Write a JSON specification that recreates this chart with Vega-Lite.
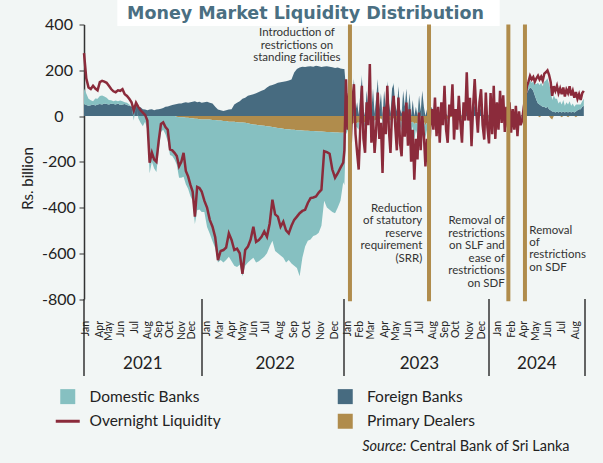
{
  "$schema": "https://vega.github.io/schema/vega-lite/v6.json",
  "width": 501,
  "height": 274.5,
  "autosize": {"type": "none"},
  "padding": {"left": 84, "top": 24.5, "right": 18, "bottom": 164},
  "background": "#f2f6f5",
  "config": {"view": {"stroke": null}, "font": "Lato", "axisX": {"disable": true}},
  "datasets": {
    "liq": [
      {"d":"2021-01-01","fb":50,"pd":0,"dom":70,"ol":275},
      {"d":"2021-01-08","fb":48,"pd":0,"dom":50,"ol":165},
      {"d":"2021-01-15","fb":45,"pd":0,"dom":30,"ol":125},
      {"d":"2021-01-22","fb":47,"pd":0,"dom":22,"ol":118},
      {"d":"2021-01-29","fb":50,"pd":0,"dom":15,"ol":132},
      {"d":"2021-02-05","fb":46,"pd":0,"dom":30,"ol":120},
      {"d":"2021-02-12","fb":50,"pd":0,"dom":25,"ol":112},
      {"d":"2021-02-19","fb":52,"pd":0,"dom":35,"ol":148},
      {"d":"2021-02-26","fb":50,"pd":0,"dom":40,"ol":154},
      {"d":"2021-03-05","fb":55,"pd":0,"dom":30,"ol":150},
      {"d":"2021-03-12","fb":52,"pd":0,"dom":28,"ol":145},
      {"d":"2021-03-19","fb":50,"pd":0,"dom":20,"ol":132},
      {"d":"2021-03-26","fb":54,"pd":0,"dom":15,"ol":118},
      {"d":"2021-04-02","fb":52,"pd":0,"dom":12,"ol":108},
      {"d":"2021-04-09","fb":50,"pd":0,"dom":18,"ol":104},
      {"d":"2021-04-16","fb":55,"pd":0,"dom":10,"ol":112},
      {"d":"2021-04-23","fb":48,"pd":0,"dom":20,"ol":110},
      {"d":"2021-04-30","fb":50,"pd":0,"dom":15,"ol":117},
      {"d":"2021-05-07","fb":52,"pd":0,"dom":8,"ol":95},
      {"d":"2021-05-14","fb":48,"pd":0,"dom":10,"ol":88},
      {"d":"2021-05-21","fb":45,"pd":0,"dom":5,"ol":75},
      {"d":"2021-05-28","fb":42,"pd":0,"dom":0,"ol":60},
      {"d":"2021-06-04","fb":40,"pd":0,"dom":-20,"ol":25},
      {"d":"2021-06-11","fb":45,"pd":0,"dom":5,"ol":58},
      {"d":"2021-06-18","fb":40,"pd":0,"dom":-10,"ol":40},
      {"d":"2021-06-25","fb":38,"pd":0,"dom":-30,"ol":25},
      {"d":"2021-07-02","fb":30,"pd":0,"dom":-45,"ol":15},
      {"d":"2021-07-09","fb":28,"pd":0,"dom":-25,"ol":5},
      {"d":"2021-07-16","fb":25,"pd":0,"dom":-60,"ol":-20},
      {"d":"2021-07-23","fb":28,"pd":0,"dom":-250,"ol":-204},
      {"d":"2021-07-30","fb":30,"pd":0,"dom":-200,"ol":-160},
      {"d":"2021-08-06","fb":25,"pd":0,"dom":-230,"ol":-190},
      {"d":"2021-08-13","fb":28,"pd":0,"dom":-245,"ol":-200},
      {"d":"2021-08-20","fb":30,"pd":0,"dom":-150,"ol":-110},
      {"d":"2021-08-27","fb":32,"pd":0,"dom":-70,"ol":-35},
      {"d":"2021-09-03","fb":35,"pd":0,"dom":-60,"ol":-28},
      {"d":"2021-09-10","fb":40,"pd":0,"dom":-80,"ol":-48},
      {"d":"2021-09-17","fb":42,"pd":0,"dom":-110,"ol":-60},
      {"d":"2021-09-24","fb":45,"pd":0,"dom":-170,"ol":-146},
      {"d":"2021-10-01","fb":48,"pd":0,"dom":-175,"ol":-150},
      {"d":"2021-10-08","fb":50,"pd":0,"dom":-190,"ol":-161},
      {"d":"2021-10-15","fb":52,"pd":-3,"dom":-210,"ol":-175},
      {"d":"2021-10-22","fb":55,"pd":-5,"dom":-265,"ol":-220},
      {"d":"2021-10-29","fb":55,"pd":-5,"dom":-265,"ol":-200},
      {"d":"2021-11-05","fb":58,"pd":-6,"dom":-260,"ol":-161},
      {"d":"2021-11-12","fb":60,"pd":-8,"dom":-290,"ol":-240},
      {"d":"2021-11-19","fb":58,"pd":-8,"dom":-310,"ol":-264},
      {"d":"2021-11-26","fb":60,"pd":-10,"dom":-340,"ol":-300},
      {"d":"2021-12-03","fb":62,"pd":-10,"dom":-360,"ol":-330},
      {"d":"2021-12-10","fb":65,"pd":-12,"dom":-460,"ol":-440},
      {"d":"2021-12-17","fb":60,"pd":-12,"dom":-400,"ol":-310},
      {"d":"2021-12-24","fb":62,"pd":-14,"dom":-395,"ol":-315},
      {"d":"2021-12-31","fb":58,"pd":-15,"dom":-405,"ol":-330},
      {"d":"2022-01-07","fb":60,"pd":-15,"dom":-405,"ol":-370},
      {"d":"2022-01-14","fb":62,"pd":-15,"dom":-470,"ol":-400},
      {"d":"2022-01-21","fb":58,"pd":-15,"dom":-500,"ol":-454},
      {"d":"2022-01-28","fb":55,"pd":-18,"dom":-530,"ol":-484},
      {"d":"2022-02-04","fb":40,"pd":-18,"dom":-560,"ol":-530},
      {"d":"2022-02-11","fb":28,"pd":-20,"dom":-620,"ol":-630},
      {"d":"2022-02-18","fb":25,"pd":-20,"dom":-610,"ol":-590},
      {"d":"2022-02-25","fb":22,"pd":-22,"dom":-618,"ol":-586},
      {"d":"2022-03-04","fb":25,"pd":-22,"dom":-608,"ol":-575},
      {"d":"2022-03-11","fb":28,"pd":-25,"dom":-590,"ol":-513},
      {"d":"2022-03-18","fb":30,"pd":-25,"dom":-610,"ol":-542},
      {"d":"2022-03-25","fb":50,"pd":-25,"dom":-630,"ol":-586},
      {"d":"2022-04-01","fb":58,"pd":-27,"dom":-633,"ol":-580},
      {"d":"2022-04-08","fb":65,"pd":-28,"dom":-622,"ol":-600},
      {"d":"2022-04-15","fb":75,"pd":-28,"dom":-672,"ol":-690},
      {"d":"2022-04-22","fb":80,"pd":-30,"dom":-625,"ol":-586},
      {"d":"2022-04-29","fb":88,"pd":-32,"dom":-608,"ol":-571},
      {"d":"2022-05-06","fb":92,"pd":-35,"dom":-595,"ol":-540},
      {"d":"2022-05-13","fb":95,"pd":-37,"dom":-583,"ol":-484},
      {"d":"2022-05-20","fb":100,"pd":-38,"dom":-602,"ol":-550},
      {"d":"2022-05-27","fb":105,"pd":-40,"dom":-595,"ol":-542},
      {"d":"2022-06-03","fb":110,"pd":-42,"dom":-583,"ol":-528},
      {"d":"2022-06-10","fb":115,"pd":-43,"dom":-572,"ol":-505},
      {"d":"2022-06-17","fb":125,"pd":-45,"dom":-555,"ol":-528},
      {"d":"2022-06-24","fb":132,"pd":-46,"dom":-524,"ol":-470},
      {"d":"2022-07-01","fb":135,"pd":-48,"dom":-497,"ol":-366},
      {"d":"2022-07-08","fb":140,"pd":-50,"dom":-540,"ol":-430},
      {"d":"2022-07-15","fb":145,"pd":-52,"dom":-548,"ol":-440},
      {"d":"2022-07-22","fb":148,"pd":-54,"dom":-556,"ol":-484},
      {"d":"2022-07-29","fb":150,"pd":-56,"dom":-564,"ol":-462},
      {"d":"2022-08-05","fb":152,"pd":-58,"dom":-582,"ol":-500},
      {"d":"2022-08-12","fb":155,"pd":-58,"dom":-572,"ol":-513},
      {"d":"2022-08-19","fb":160,"pd":-60,"dom":-585,"ol":-480},
      {"d":"2022-08-26","fb":190,"pd":-60,"dom":-595,"ol":-454},
      {"d":"2022-09-02","fb":205,"pd":-62,"dom":-603,"ol":-440},
      {"d":"2022-09-09","fb":212,"pd":-62,"dom":-638,"ol":-425},
      {"d":"2022-09-16","fb":215,"pd":-63,"dom":-557,"ol":-415},
      {"d":"2022-09-23","fb":214,"pd":-64,"dom":-506,"ol":-410},
      {"d":"2022-09-30","fb":216,"pd":-65,"dom":-480,"ol":-380},
      {"d":"2022-10-07","fb":218,"pd":-66,"dom":-474,"ol":-359},
      {"d":"2022-10-14","fb":215,"pd":-66,"dom":-459,"ol":-356},
      {"d":"2022-10-21","fb":220,"pd":-67,"dom":-453,"ol":-352},
      {"d":"2022-10-28","fb":217,"pd":-68,"dom":-442,"ol":-335},
      {"d":"2022-11-04","fb":214,"pd":-68,"dom":-412,"ol":-322},
      {"d":"2022-11-11","fb":216,"pd":-69,"dom":-301,"ol":-154},
      {"d":"2022-11-18","fb":218,"pd":-70,"dom":-330,"ol":-158},
      {"d":"2022-11-25","fb":215,"pd":-70,"dom":-340,"ol":-165},
      {"d":"2022-12-02","fb":213,"pd":-71,"dom":-349,"ol":-234},
      {"d":"2022-12-09","fb":210,"pd":-72,"dom":-353,"ol":-270},
      {"d":"2022-12-16","fb":212,"pd":-72,"dom":-328,"ol":-250},
      {"d":"2022-12-23","fb":208,"pd":-73,"dom":-297,"ol":-226},
      {"d":"2022-12-30","fb":205,"pd":-73,"dom":-217,"ol":-204},
      {"d":"2023-01-02","fb":205,"pd":-72,"dom":-230,"ol":-150},
      {"d":"2023-01-06","fb":120,"pd":-50,"dom":-30,"ol":160},
      {"d":"2023-01-10","fb":30,"pd":-45,"dom":-20,"ol":-60},
      {"d":"2023-01-14","fb":150,"pd":-40,"dom":0,"ol":100},
      {"d":"2023-01-18","fb":10,"pd":-40,"dom":-15,"ol":-117},
      {"d":"2023-01-22","fb":90,"pd":-35,"dom":0,"ol":60},
      {"d":"2023-01-26","fb":160,"pd":-30,"dom":5,"ol":139},
      {"d":"2023-01-30","fb":20,"pd":-35,"dom":-10,"ol":-80},
      {"d":"2023-02-03","fb":60,"pd":-30,"dom":-20,"ol":-160},
      {"d":"2023-02-07","fb":5,"pd":-30,"dom":-30,"ol":-234},
      {"d":"2023-02-11","fb":100,"pd":-25,"dom":0,"ol":-50},
      {"d":"2023-02-15","fb":170,"pd":-20,"dom":10,"ol":132},
      {"d":"2023-02-19","fb":30,"pd":-25,"dom":-10,"ol":-100},
      {"d":"2023-02-23","fb":0,"pd":-30,"dom":-20,"ol":-161},
      {"d":"2023-02-27","fb":110,"pd":-20,"dom":0,"ol":60},
      {"d":"2023-03-03","fb":40,"pd":-20,"dom":-5,"ol":-40},
      {"d":"2023-03-07","fb":180,"pd":-15,"dom":10,"ol":227},
      {"d":"2023-03-11","fb":20,"pd":-20,"dom":-15,"ol":-117},
      {"d":"2023-03-15","fb":120,"pd":-15,"dom":0,"ol":0},
      {"d":"2023-03-19","fb":10,"pd":-20,"dom":-20,"ol":-161},
      {"d":"2023-03-23","fb":80,"pd":-15,"dom":0,"ol":-60},
      {"d":"2023-03-27","fb":160,"pd":-10,"dom":5,"ol":103},
      {"d":"2023-03-31","fb":30,"pd":-15,"dom":-10,"ol":-100},
      {"d":"2023-04-04","fb":100,"pd":-10,"dom":0,"ol":-30},
      {"d":"2023-04-08","fb":0,"pd":-20,"dom":-40,"ol":-249},
      {"d":"2023-04-12","fb":110,"pd":-10,"dom":0,"ol":40},
      {"d":"2023-04-16","fb":40,"pd":-15,"dom":-10,"ol":-80},
      {"d":"2023-04-20","fb":150,"pd":-10,"dom":5,"ol":132},
      {"d":"2023-04-24","fb":60,"pd":-15,"dom":-10,"ol":-60},
      {"d":"2023-04-28","fb":10,"pd":-20,"dom":-30,"ol":-161},
      {"d":"2023-05-02","fb":120,"pd":-10,"dom":0,"ol":20},
      {"d":"2023-05-06","fb":140,"pd":-10,"dom":5,"ol":88},
      {"d":"2023-05-10","fb":50,"pd":-15,"dom":-10,"ol":-44},
      {"d":"2023-05-14","fb":20,"pd":-20,"dom":-30,"ol":-150},
      {"d":"2023-05-18","fb":130,"pd":-10,"dom":0,"ol":81},
      {"d":"2023-05-22","fb":30,"pd":-20,"dom":-25,"ol":-120},
      {"d":"2023-05-26","fb":10,"pd":-25,"dom":-40,"ol":-176},
      {"d":"2023-05-30","fb":110,"pd":-15,"dom":0,"ol":20},
      {"d":"2023-06-03","fb":40,"pd":-20,"dom":-20,"ol":-90},
      {"d":"2023-06-07","fb":120,"pd":-10,"dom":0,"ol":59},
      {"d":"2023-06-11","fb":20,"pd":-25,"dom":-40,"ol":-130},
      {"d":"2023-06-15","fb":100,"pd":-15,"dom":0,"ol":29},
      {"d":"2023-06-19","fb":0,"pd":-30,"dom":-60,"ol":-200},
      {"d":"2023-06-23","fb":70,"pd":-25,"dom":-20,"ol":-60},
      {"d":"2023-06-27","fb":0,"pd":-35,"dom":-70,"ol":-278},
      {"d":"2023-07-01","fb":40,"pd":-30,"dom":-30,"ol":-100},
      {"d":"2023-07-05","fb":0,"pd":-35,"dom":-50,"ol":-190},
      {"d":"2023-07-09","fb":90,"pd":-20,"dom":0,"ol":15},
      {"d":"2023-07-13","fb":20,"pd":-30,"dom":-40,"ol":-150},
      {"d":"2023-07-17","fb":110,"pd":-20,"dom":0,"ol":0},
      {"d":"2023-07-21","fb":40,"pd":-25,"dom":-20,"ol":-80},
      {"d":"2023-07-25","fb":0,"pd":-40,"dom":-55,"ol":-220},
      {"d":"2023-07-29","fb":30,"pd":-30,"dom":-30,"ol":-100},
      {"d":"2023-08-02","fb":0,"pd":-40,"dom":-45,"ol":-234},
      {"d":"2023-08-06","fb":20,"pd":-20,"dom":-10,"ol":-50},
      {"d":"2023-08-10","fb":40,"pd":-10,"dom":0,"ol":30},
      {"d":"2023-08-14","fb":10,"pd":-15,"dom":-10,"ol":-60},
      {"d":"2023-08-18","fb":60,"pd":-5,"dom":5,"ol":81},
      {"d":"2023-08-22","fb":0,"pd":-15,"dom":-15,"ol":-88},
      {"d":"2023-08-26","fb":30,"pd":-5,"dom":5,"ol":40},
      {"d":"2023-08-30","fb":0,"pd":-15,"dom":-20,"ol":-117},
      {"d":"2023-09-03","fb":40,"pd":-5,"dom":5,"ol":60},
      {"d":"2023-09-07","fb":10,"pd":-10,"dom":-5,"ol":-40},
      {"d":"2023-09-11","fb":70,"pd":0,"dom":10,"ol":132},
      {"d":"2023-09-15","fb":10,"pd":-10,"dom":-10,"ol":-60},
      {"d":"2023-09-19","fb":0,"pd":-15,"dom":-20,"ol":-117},
      {"d":"2023-09-23","fb":30,"pd":-5,"dom":5,"ol":50},
      {"d":"2023-09-27","fb":10,"pd":-5,"dom":0,"ol":0},
      {"d":"2023-10-01","fb":60,"pd":0,"dom":10,"ol":139},
      {"d":"2023-10-05","fb":0,"pd":-15,"dom":-15,"ol":-103},
      {"d":"2023-10-09","fb":20,"pd":-5,"dom":5,"ol":30},
      {"d":"2023-10-13","fb":0,"pd":-10,"dom":-10,"ol":-60},
      {"d":"2023-10-17","fb":40,"pd":0,"dom":5,"ol":88},
      {"d":"2023-10-21","fb":10,"pd":-5,"dom":-5,"ol":-30},
      {"d":"2023-10-25","fb":0,"pd":-15,"dom":-20,"ol":-117},
      {"d":"2023-10-29","fb":30,"pd":0,"dom":5,"ol":60},
      {"d":"2023-11-02","fb":10,"pd":-5,"dom":-5,"ol":-20},
      {"d":"2023-11-06","fb":70,"pd":0,"dom":15,"ol":191},
      {"d":"2023-11-10","fb":10,"pd":-5,"dom":0,"ol":-20},
      {"d":"2023-11-14","fb":30,"pd":0,"dom":5,"ol":80},
      {"d":"2023-11-18","fb":0,"pd":-15,"dom":-20,"ol":-132},
      {"d":"2023-11-22","fb":20,"pd":0,"dom":5,"ol":40},
      {"d":"2023-11-26","fb":50,"pd":0,"dom":10,"ol":161},
      {"d":"2023-11-30","fb":10,"pd":0,"dom":0,"ol":20},
      {"d":"2023-12-04","fb":0,"pd":-10,"dom":-10,"ol":-73},
      {"d":"2023-12-08","fb":20,"pd":0,"dom":5,"ol":60},
      {"d":"2023-12-12","fb":40,"pd":0,"dom":10,"ol":117},
      {"d":"2023-12-16","fb":10,"pd":-5,"dom":-5,"ol":-40},
      {"d":"2023-12-20","fb":0,"pd":-10,"dom":-15,"ol":-103},
      {"d":"2023-12-24","fb":40,"pd":0,"dom":10,"ol":103},
      {"d":"2023-12-28","fb":10,"pd":-5,"dom":0,"ol":-50},
      {"d":"2024-01-01","fb":0,"pd":-10,"dom":-15,"ol":-120},
      {"d":"2024-01-05","fb":30,"pd":0,"dom":10,"ol":100},
      {"d":"2024-01-09","fb":0,"pd":-5,"dom":-10,"ol":-80},
      {"d":"2024-01-13","fb":40,"pd":0,"dom":10,"ol":132},
      {"d":"2024-01-17","fb":0,"pd":-10,"dom":-15,"ol":-100},
      {"d":"2024-01-21","fb":20,"pd":0,"dom":5,"ol":60},
      {"d":"2024-01-25","fb":0,"pd":-5,"dom":-10,"ol":-60},
      {"d":"2024-01-29","fb":30,"pd":0,"dom":10,"ol":110},
      {"d":"2024-02-02","fb":5,"pd":-5,"dom":-5,"ol":-30},
      {"d":"2024-02-06","fb":25,"pd":0,"dom":10,"ol":90},
      {"d":"2024-02-10","fb":0,"pd":-5,"dom":-10,"ol":-70},
      {"d":"2024-02-14","fb":15,"pd":0,"dom":5,"ol":40},
      {"d":"2024-02-18","fb":0,"pd":-5,"dom":-5,"ol":-50},
      {"d":"2024-02-22","fb":20,"pd":0,"dom":5,"ol":60},
      {"d":"2024-02-26","fb":0,"pd":-5,"dom":-10,"ol":-73},
      {"d":"2024-03-01","fb":10,"pd":0,"dom":5,"ol":30},
      {"d":"2024-03-05","fb":0,"pd":-5,"dom":-10,"ol":-60},
      {"d":"2024-03-09","fb":10,"pd":0,"dom":5,"ol":44},
      {"d":"2024-03-13","fb":0,"pd":-10,"dom":-15,"ol":-88},
      {"d":"2024-03-17","fb":10,"pd":0,"dom":0,"ol":20},
      {"d":"2024-03-21","fb":0,"pd":-5,"dom":-10,"ol":-40},
      {"d":"2024-03-25","fb":5,"pd":0,"dom":-5,"ol":-20},
      {"d":"2024-03-29","fb":30,"pd":0,"dom":5,"ol":40},
      {"d":"2024-04-02","fb":60,"pd":0,"dom":10,"ol":80},
      {"d":"2024-04-06","fb":100,"pd":0,"dom":15,"ol":130},
      {"d":"2024-04-10","fb":115,"pd":0,"dom":20,"ol":150},
      {"d":"2024-04-14","fb":125,"pd":0,"dom":30,"ol":175},
      {"d":"2024-04-18","fb":120,"pd":0,"dom":25,"ol":160},
      {"d":"2024-04-22","fb":110,"pd":0,"dom":40,"ol":170},
      {"d":"2024-04-26","fb":90,"pd":0,"dom":50,"ol":150},
      {"d":"2024-04-30","fb":70,"pd":0,"dom":70,"ol":165},
      {"d":"2024-05-04","fb":55,"pd":0,"dom":90,"ol":176},
      {"d":"2024-05-08","fb":50,"pd":-5,"dom":85,"ol":160},
      {"d":"2024-05-12","fb":45,"pd":0,"dom":100,"ol":172},
      {"d":"2024-05-16","fb":40,"pd":0,"dom":90,"ol":155},
      {"d":"2024-05-20","fb":40,"pd":0,"dom":110,"ol":185},
      {"d":"2024-05-24","fb":35,"pd":0,"dom":120,"ol":191},
      {"d":"2024-05-28","fb":40,"pd":0,"dom":125,"ol":199},
      {"d":"2024-06-01","fb":30,"pd":0,"dom":110,"ol":180},
      {"d":"2024-06-05","fb":25,"pd":-10,"dom":90,"ol":150},
      {"d":"2024-06-09","fb":20,"pd":-15,"dom":50,"ol":88},
      {"d":"2024-06-13","fb":20,"pd":0,"dom":70,"ol":130},
      {"d":"2024-06-17","fb":15,"pd":0,"dom":60,"ol":110},
      {"d":"2024-06-21","fb":20,"pd":0,"dom":55,"ol":132},
      {"d":"2024-06-25","fb":15,"pd":0,"dom":40,"ol":100},
      {"d":"2024-06-29","fb":20,"pd":0,"dom":45,"ol":120},
      {"d":"2024-07-03","fb":15,"pd":-5,"dom":35,"ol":95},
      {"d":"2024-07-07","fb":20,"pd":0,"dom":50,"ol":125},
      {"d":"2024-07-11","fb":15,"pd":0,"dom":30,"ol":85},
      {"d":"2024-07-15","fb":20,"pd":0,"dom":40,"ol":115},
      {"d":"2024-07-19","fb":15,"pd":-5,"dom":35,"ol":100},
      {"d":"2024-07-23","fb":20,"pd":0,"dom":45,"ol":130},
      {"d":"2024-07-27","fb":15,"pd":0,"dom":30,"ol":90},
      {"d":"2024-07-31","fb":20,"pd":0,"dom":35,"ol":110},
      {"d":"2024-08-04","fb":15,"pd":0,"dom":25,"ol":80},
      {"d":"2024-08-08","fb":20,"pd":-5,"dom":30,"ol":105},
      {"d":"2024-08-12","fb":25,"pd":0,"dom":25,"ol":75},
      {"d":"2024-08-16","fb":30,"pd":0,"dom":20,"ol":95},
      {"d":"2024-08-20","fb":30,"pd":0,"dom":20,"ol":70},
      {"d":"2024-08-24","fb":40,"pd":0,"dom":25,"ol":100},
      {"d":"2024-08-28","fb":45,"pd":0,"dom":30,"ol":110}
    ],
    "months": [
      {"d":"2021-01-07","m":"Jan"},{"d":"2021-02-19","m":"Apr"},{"d":"2021-03-18","m":"May"},{"d":"2021-04-26","m":"Jun"},
      {"d":"2021-06-08","m":"Jul"},{"d":"2021-07-19","m":"Aug"},{"d":"2021-08-21","m":"Sep"},{"d":"2021-09-23","m":"Oct"},
      {"d":"2021-10-30","m":"Nov"},{"d":"2021-12-02","m":"Dec"},
      {"d":"2022-01-15","m":"Jan"},{"d":"2022-02-17","m":"Mar"},{"d":"2022-03-18","m":"Apr"},{"d":"2022-04-16","m":"May"},
      {"d":"2022-05-15","m":"Jun"},{"d":"2022-06-15","m":"Jul"},{"d":"2022-07-20","m":"Aug"},{"d":"2022-08-25","m":"Sep"},
      {"d":"2022-09-29","m":"Oct"},{"d":"2022-11-03","m":"Nov"},{"d":"2022-12-08","m":"Dec"},
      {"d":"2023-01-10","m":"Jan"},{"d":"2023-02-10","m":"Feb"},{"d":"2023-03-10","m":"Mar"},{"d":"2023-04-13","m":"Apr"},
      {"d":"2023-05-12","m":"May"},{"d":"2023-06-11","m":"Jun"},{"d":"2023-07-11","m":"Jul"},{"d":"2023-08-13","m":"Aug"},
      {"d":"2023-09-12","m":"Sep"},{"d":"2023-10-11","m":"Oct"},{"d":"2023-11-13","m":"Nov"},{"d":"2023-12-14","m":"Dec"},
      {"d":"2024-01-23","m":"Jan"},{"d":"2024-02-27","m":"Feb"},{"d":"2024-03-30","m":"Apr"},{"d":"2024-04-29","m":"May"},
      {"d":"2024-05-29","m":"Jun"},{"d":"2024-07-03","m":"Jul"},{"d":"2024-08-08","m":"Aug"}
    ],
    "years": [
      {"d":"2021-07-02","yr":"2021"},{"d":"2022-07-08","yr":"2022"},{"d":"2023-07-10","yr":"2023"},{"d":"2024-05-01","yr":"2024"}
    ],
    "separators": [
      {"d":"2021-01-01"},{"d":"2022-01-01"},{"d":"2023-01-01"},{"d":"2024-01-01"},{"d":"2024-08-31"}
    ],
    "events": [
      {"d":"2023-01-16"},{"d":"2023-08-03"},{"d":"2024-02-19"},{"d":"2024-04-01"}
    ]
  },
  "layer": [
    {
      "data": {"values": [{"d": "2021-04-14", "d2": "2024-01-28"}]},
      "mark": {"type": "rect", "color": "#ffffff"},
      "encoding": {
        "x": {"field": "d", "type": "temporal", "scale": {"domain": {"expr": "[utc(2021,0,1), utc(2022,0,1), utc(2023,0,1), utc(2024,0,1), utc(2024,7,31)]"}, "range": [0, 118, 260, 405, 501]}},
        "x2": {"field": "d2"},
        "y": {"datum": 507},
        "y2": {"datum": 393}
      }
    },
    {
      "data": {"values": [{"d": "2022-09-24"}]},
      "mark": {"type": "text", "align": "center", "baseline": "alphabetic", "font": "DejaVu Sans", "fontSize": 17.5, "fontWeight": "bold", "color": "#4a6f82"},
      "encoding": {
        "x": {"field": "d", "type": "temporal", "scale": {"domain": {"expr": "[utc(2021,0,1), utc(2022,0,1), utc(2023,0,1), utc(2024,0,1), utc(2024,7,31)]"}, "range": [0, 118, 260, 405, 501]}},
        "y": {"datum": 422},
        "text": {"value": "Money Market Liquidity Distribution"}
      }
    },
    {
      "data": {"name": "liq"},
      "transform": [{"fold": ["fb", "pd", "dom"], "as": ["k", "v"]}],
      "mark": {"type": "area"},
      "encoding": {
        "x": {"field": "d", "type": "temporal", "scale": {"domain": {"expr": "[utc(2021,0,1), utc(2022,0,1), utc(2023,0,1), utc(2024,0,1), utc(2024,7,31)]"}, "range": [0, 118, 260, 405, 501]}},
        "y": {
          "field": "v", "type": "quantitative", "stack": "zero",
          "scale": {"domain": [-800, 400], "nice": false, "zero": false},
          "axis": {
            "values": [-800, -600, -400, -200, 0, 200, 400],
            "labelExpr": "toString(datum.value)",
            "grid": false, "domain": true, "domainColor": "#333333", "domainWidth": 1.5,
            "ticks": true, "tickSize": 5, "tickColor": "#333333", "tickWidth": 1,
            "labelAlign": "center", "labelPadding": 20.5, "labelFont": "Lato", "labelFontSize": 16, "labelColor": "#222222",
            "title": "Rs. billion", "titleFont": "Lato", "titleFontSize": 15, "titleFontWeight": "normal", "titleColor": "#222222",
            "titleAngle": 270, "titleX": -57, "titleY": 153.5, "titleAlign": "center", "titleBaseline": "middle"
          }
        },
        "color": {
          "field": "k", "type": "nominal",
          "scale": {"domain": ["dom", "ol", "fb", "pd"], "range": ["#86c0c1", "#8b2b3b", "#476b80", "#b08c4c"]},
          "legend": {
            "orient": "none", "legendX": -24, "legendY": 364, "columns": 2, "title": null, "padding": 0,
            "labelExpr": "datum.value == 'dom' ? 'Domestic Banks' : datum.value == 'fb' ? 'Foreign Banks' : datum.value == 'ol' ? 'Overnight Liquidity' : 'Primary Dealers'",
            "symbolType": {"expr": "datum.value == 'ol' ? 'stroke' : 'square'"},
            "symbolSize": {"expr": "datum.value == 'ol' ? 576 : 225"},
            "symbolStrokeWidth": {"expr": "datum.value == 'ol' ? 3 : 0"},
            "symbolStrokeColor": {"expr": "datum.value == 'ol' ? '#8b2b3b' : 'transparent'"},
            "symbolOpacity": 1,
            "labelFont": "Lato", "labelFontSize": 15.5, "labelColor": "#222222", "labelOffset": 14,
            "columnPadding": 116.5, "rowPadding": 8
          }
        },
        "order": {"field": "k", "sort": "descending"}
      }
    },
    {
      "mark": {"type": "rule", "color": "#333333", "strokeWidth": 1.5},
      "encoding": {"y": {"datum": 0}}
    },
    {
      "data": {"name": "liq"},
      "mark": {"type": "line", "color": "#8b2b3b", "strokeWidth": 2.5},
      "encoding": {
        "x": {"field": "d", "type": "temporal", "scale": {"domain": {"expr": "[utc(2021,0,1), utc(2022,0,1), utc(2023,0,1), utc(2024,0,1), utc(2024,7,31)]"}, "range": [0, 118, 260, 405, 501]}},
        "y": {"field": "ol", "type": "quantitative"}
      }
    },
    {
      "data": {"name": "events"},
      "mark": {"type": "rule", "color": "#b08c4c", "strokeWidth": 4},
      "encoding": {
        "x": {"field": "d", "type": "temporal", "scale": {"domain": {"expr": "[utc(2021,0,1), utc(2022,0,1), utc(2023,0,1), utc(2024,0,1), utc(2024,7,31)]"}, "range": [0, 118, 260, 405, 501]}},
        "y": {"datum": 400},
        "y2": {"datum": -810}
      }
    },
    {
      "data": {"name": "separators"},
      "mark": {"type": "rule", "color": "#333333", "strokeWidth": 1.5},
      "encoding": {
        "x": {"field": "d", "type": "temporal", "scale": {"domain": {"expr": "[utc(2021,0,1), utc(2022,0,1), utc(2023,0,1), utc(2024,0,1), utc(2024,7,31)]"}, "range": [0, 118, 260, 405, 501]}},
        "y": {"datum": -800},
        "y2": {"datum": -1137}
      }
    },
    {
      "data": {"name": "months"},
      "mark": {"type": "text", "angle": 270, "align": "right", "baseline": "middle", "font": "Lato", "fontSize": 10.5, "color": "#222222"},
      "encoding": {
        "x": {"field": "d", "type": "temporal", "scale": {"domain": {"expr": "[utc(2021,0,1), utc(2022,0,1), utc(2023,0,1), utc(2024,0,1), utc(2024,7,31)]"}, "range": [0, 118, 260, 405, 501]}},
        "y": {"datum": -896},
        "text": {"field": "m"}
      }
    },
    {
      "data": {"name": "years"},
      "mark": {"type": "text", "align": "center", "baseline": "middle", "font": "Lato", "fontSize": 17, "color": "#222222"},
      "encoding": {
        "x": {"field": "d", "type": "temporal", "scale": {"domain": {"expr": "[utc(2021,0,1), utc(2022,0,1), utc(2023,0,1), utc(2024,0,1), utc(2024,7,31)]"}, "range": [0, 118, 260, 405, 501]}},
        "y": {"datum": -1082},
        "text": {"field": "yr"}
      }
    },
    {
      "data": {"values": [{"d": "2022-09-02"}]},
      "mark": {"type": "text", "align": "center", "baseline": "top", "font": "Lato", "fontSize": 11.5, "lineHeight": 12.3, "color": "#333333"},
      "encoding": {
        "x": {"field": "d", "type": "temporal", "scale": {"domain": {"expr": "[utc(2021,0,1), utc(2022,0,1), utc(2023,0,1), utc(2024,0,1), utc(2024,7,31)]"}, "range": [0, 118, 260, 405, 501]}},
        "y": {"datum": 387},
        "text": {"value": ["Introduction of", "restrictions on", "standing facilities"]}
      }
    },
    {
      "data": {"values": [{"d": "2023-07-17"}]},
      "mark": {"type": "text", "align": "right", "baseline": "top", "font": "Lato", "fontSize": 11.5, "lineHeight": 12.5, "color": "#333333"},
      "encoding": {
        "x": {"field": "d", "type": "temporal", "scale": {"domain": {"expr": "[utc(2021,0,1), utc(2022,0,1), utc(2023,0,1), utc(2024,0,1), utc(2024,7,31)]"}, "range": [0, 118, 260, 405, 501]}},
        "y": {"datum": -380},
        "text": {"value": ["Reduction", "of statutory", "reserve", "requirement", "(SRR)"]}
      }
    },
    {
      "data": {"values": [{"d": "2024-02-10"}]},
      "mark": {"type": "text", "align": "right", "baseline": "top", "font": "Lato", "fontSize": 11.5, "lineHeight": 12.6, "color": "#333333"},
      "encoding": {
        "x": {"field": "d", "type": "temporal", "scale": {"domain": {"expr": "[utc(2021,0,1), utc(2022,0,1), utc(2023,0,1), utc(2024,0,1), utc(2024,7,31)]"}, "range": [0, 118, 260, 405, 501]}},
        "y": {"datum": -433},
        "text": {"value": ["Removal of", "restrictions", "on SLF and", "ease of", "restrictions", "on SDF"]}
      }
    },
    {
      "data": {"values": [{"d": "2024-04-12"}]},
      "mark": {"type": "text", "align": "left", "baseline": "top", "font": "Lato", "fontSize": 11.5, "lineHeight": 12.4, "color": "#333333"},
      "encoding": {
        "x": {"field": "d", "type": "temporal", "scale": {"domain": {"expr": "[utc(2021,0,1), utc(2022,0,1), utc(2023,0,1), utc(2024,0,1), utc(2024,7,31)]"}, "range": [0, 118, 260, 405, 501]}},
        "y": {"datum": -475},
        "text": {"value": ["Removal", "of", "restrictions", "on SDF"]}
      }
    },
    {
      "data": {"values": [{"d": "2023-06-07"}]},
      "mark": {"type": "text", "align": "right", "baseline": "middle", "font": "Lato", "fontSize": 14.5, "fontStyle": "italic", "color": "#222222"},
      "encoding": {
        "x": {"field": "d", "type": "temporal", "scale": {"domain": {"expr": "[utc(2021,0,1), utc(2022,0,1), utc(2023,0,1), utc(2024,0,1), utc(2024,7,31)]"}, "range": [0, 118, 260, 405, 501]}},
        "y": {"datum": -1449},
        "text": {"value": "Source:"}
      }
    },
    {
      "data": {"values": [{"d": "2023-06-16"}]},
      "mark": {"type": "text", "align": "left", "baseline": "middle", "font": "Lato", "fontSize": 14.5, "color": "#222222"},
      "encoding": {
        "x": {"field": "d", "type": "temporal", "scale": {"domain": {"expr": "[utc(2021,0,1), utc(2022,0,1), utc(2023,0,1), utc(2024,0,1), utc(2024,7,31)]"}, "range": [0, 118, 260, 405, 501]}},
        "y": {"datum": -1449},
        "text": {"value": "Central Bank of Sri Lanka"}
      }
    }
  ]
}
